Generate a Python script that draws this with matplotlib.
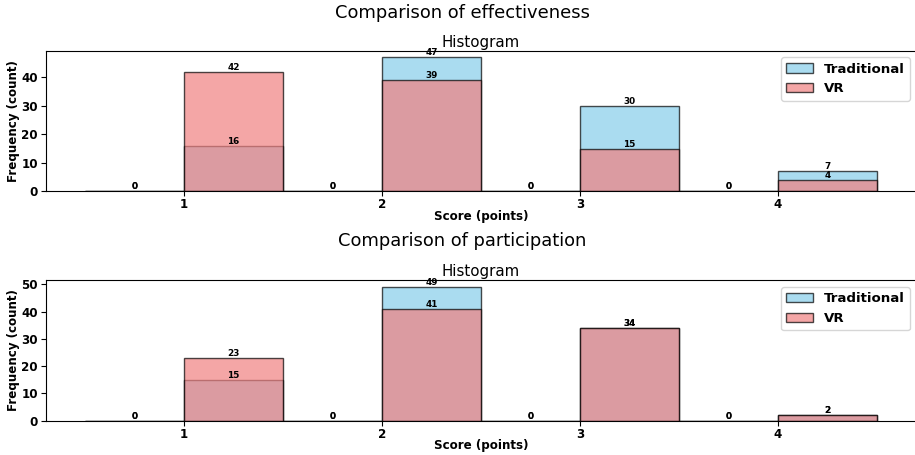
import numpy as np
import matplotlib
matplotlib.use("Agg")
import matplotlib.pyplot as plt
from matplotlib.ticker import MultipleLocator

# Score levels and counts per group
scores = [1, 2, 3, 4]
eff_traditional = [16, 47, 30, 7]
eff_vr = [42, 39, 15, 4]
part_traditional = [15, 49, 34, 2]
part_vr = [23, 41, 34, 2]

panels = [
    ("Comparison of effectiveness", eff_traditional, eff_vr),
    ("Comparison of participation", part_traditional, part_vr),
]

bins = np.arange(0.5, 4.51, 0.5)

fig = plt.figure(figsize=(9.15, 4.55), dpi=100)
W, H = 915, 455
ax_boxes = [(45.5, 50.7, 191.3), (45.5, 280.3, 420.7)]
title_y = [13, 241]

for (suptitle, trad, vr), (left, top, bottom), ty in zip(panels, ax_boxes, title_y):
    ax = fig.add_axes([left / W, 1 - bottom / H, (916.6 - left) / W, (bottom - top) / H])
    fig.text(0.505, 1 - ty / H, suptitle, ha="center", va="center", fontsize=12.9)
    for vals, color, lab in [(trad, "skyblue", "Traditional"), (vr, "lightcoral", "VR")]:
        n, edges, patches = ax.hist(scores, bins=bins, weights=vals, color=color,
                                    alpha=0.7, edgecolor="black", linewidth=1.0, label=lab)
        for count, lo, hi in zip(n, edges[:-1], edges[1:]):
            ax.text((lo + hi) / 2, count, f"{int(count)}", ha="center", va="bottom",
                    fontsize=6.4, fontweight="bold")
    ax.set_title("Histogram", fontsize=10.8, pad=3)
    ax.set_xlabel("Score (points)", fontsize=8.6, fontweight="bold", labelpad=-1)
    ax.set_ylabel("Frequency (count)", fontsize=8.6, fontweight="bold", labelpad=1)
    ax.set_xticks(scores)
    ax.yaxis.set_major_locator(MultipleLocator(10))
    ax.tick_params(labelsize=8.6)
    ax.tick_params(axis="x", pad=1.5)
    ax.tick_params(axis="y", pad=2)
    for t in ax.get_xticklabels() + ax.get_yticklabels():
        t.set_fontweight("bold")
    ax.legend(loc="upper right", prop={"size": 9.6, "weight": "bold"})

fig.savefig("out.png", dpi=100)
